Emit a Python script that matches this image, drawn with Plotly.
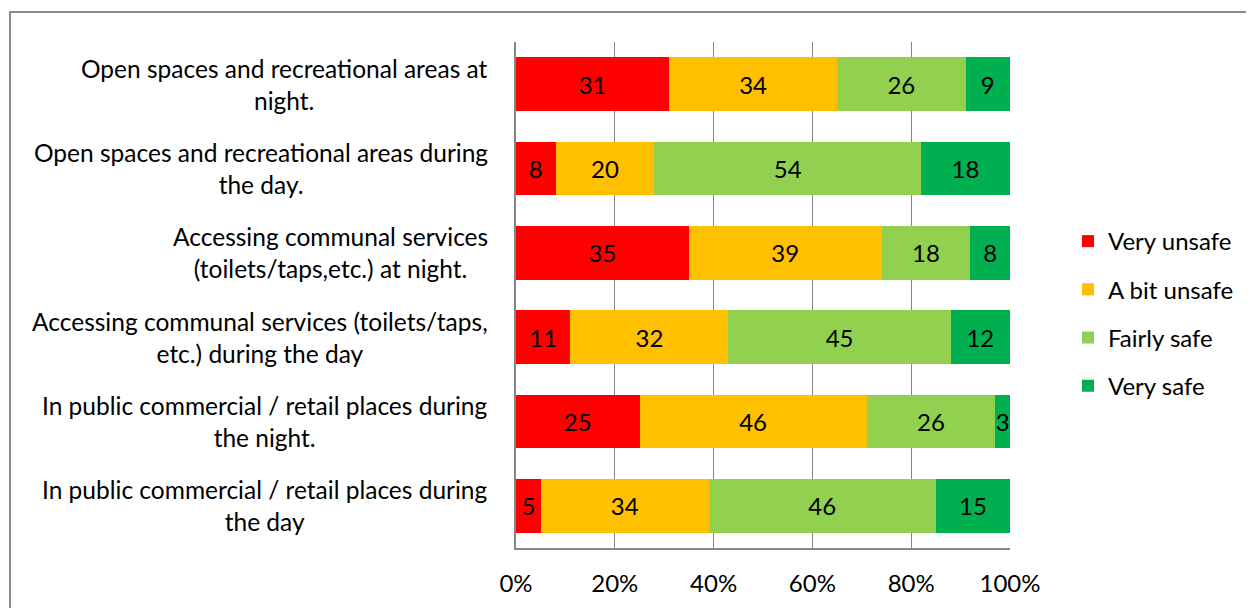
import plotly.graph_objects as go

categories = [
    "Open spaces and recreational areas at<br>night.",
    "Open spaces and recreational areas during<br>the day.",
    "Accessing communal services<br>(toilets/taps,etc.) at night.",
    "Accessing communal services (toilets/taps,<br>etc.) during the day",
    "In public commercial / retail places during<br>the night.",
    "In public commercial / retail places during<br>the day",
]
series_names = ["Very unsafe", "A bit unsafe", "Fairly safe", "Very safe"]
very_unsafe = [31, 8, 35, 11, 25, 5]
bit_unsafe = [34, 20, 39, 32, 46, 34]
fairly_safe = [26, 54, 18, 45, 26, 46]
very_safe = [9, 18, 8, 12, 3, 15]
colors = ["#FF0000", "#FFC000", "#92D050", "#00B050"]
tick_vals = [0, 20, 40, 60, 80, 100]
tick_text = ["0%", "20%", "40%", "60%", "80%", "100%"]

FONT = "Lato"
FS = 24
fig = go.Figure()
for i, (name, vals) in enumerate(zip(series_names, [very_unsafe, bit_unsafe, fairly_safe, very_safe])):
    fig.add_trace(go.Bar(
        y=categories, x=vals, name=name, orientation="h",
        marker=dict(color=colors[i], line=dict(width=0)),
        text=[str(v) for v in vals], textposition="inside",
        insidetextanchor="middle", textangle=0, constraintext="none",
        textfont=dict(family=FONT, size=FS, color="black"),
        legendgroup=name, hoverinfo="skip",
    ))

# category labels (centered multi-line block, right edge near axis)
for cat in categories:
    fig.add_annotation(
        x=-0.0526, xref="paper", y=cat, yref="y",
        text=cat, showarrow=False, xanchor="right", align="center",
        yanchor="middle",
        font=dict(family=FONT, size=24.5, color="black"),
    )

fig.update_layout(
    width=1254, height=608,
    margin=dict(l=508, r=252, t=34, b=68),
    paper_bgcolor="white", plot_bgcolor="white",
    barmode="stack", bargap=0.36,
    font=dict(family=FONT, size=FS, color="black"),
    showlegend=True,
    legend=dict(x=1.1174, y=0.4634, xanchor="left", yanchor="middle",
                font=dict(family=FONT, size=FS, color="black"),
                traceorder="grouped", tracegroupgap=14, itemclick=False),
    xaxis=dict(range=[0, 100], tickvals=tick_vals, ticktext=tick_text,
               showgrid=True, gridcolor="#868686", gridwidth=1,
               showline=True, linecolor="#868686", linewidth=2,
               ticks="", ticklabelstandoff=13, zeroline=False,
               tickfont=dict(family=FONT, size=FS, color="black")),
    yaxis=dict(autorange="reversed", showticklabels=False, ticks="",
               showline=True, linecolor="#868686", linewidth=2,
               showgrid=False, zeroline=False),
    shapes=[dict(type="rect", xref="paper", yref="paper",
                 x0=-1.0243, x1=1.6, y0=-0.3, y1=1.0593,
                 line=dict(color="#8C8C8C", width=2), layer="below")],
)
fig.write_html("out.html")
